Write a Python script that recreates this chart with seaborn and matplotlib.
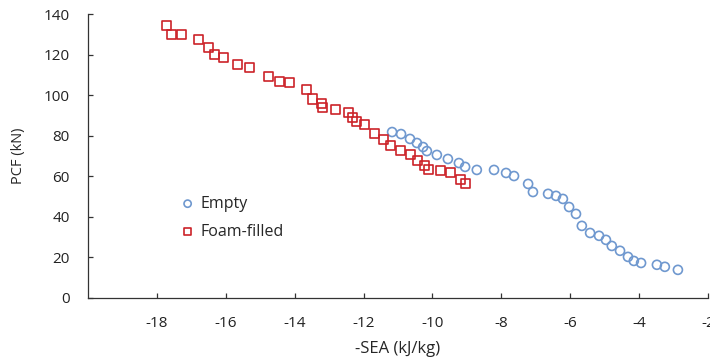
import seaborn as sns
import pandas as pd
import matplotlib
matplotlib.use("Agg")
import matplotlib.pyplot as plt

# Empty tubes
empty_sea = [-11.17, -10.91, -10.65, -10.45, -10.27, -10.16, -9.87, -9.55, -9.23, -9.05,
             -8.71, -8.21, -7.86, -7.63, -7.22, -7.08, -6.64, -6.41, -6.21, -6.03,
             -5.83, -5.66, -5.42, -5.16, -4.96, -4.79, -4.55, -4.32, -4.15, -3.94,
             -3.48, -3.25, -2.87]
empty_pcf = [81.8, 80.8, 78.4, 76.4, 74.4, 72.4, 70.5, 68.5, 66.5, 64.6,
             63.1, 63.1, 61.6, 60.1, 56.2, 52.2, 51.3, 50.3, 48.8, 44.8,
             41.4, 35.5, 32.0, 30.6, 28.6, 25.6, 23.2, 20.2, 18.2, 17.2,
             16.3, 15.3, 13.8]

# Foam-filled tubes
foam_sea = [-17.71, -17.59, -17.30, -16.78, -16.49, -16.34, -16.08, -15.67, -15.30, -14.77,
            -14.45, -14.16, -13.67, -13.47, -13.23, -13.18, -12.80, -12.45, -12.31, -12.19,
            -11.96, -11.67, -11.43, -11.23, -10.94, -10.65, -10.42, -10.24, -10.10, -9.75,
            -9.46, -9.17, -9.05]
foam_pcf = [134.5, 130.1, 130.1, 127.6, 123.7, 120.3, 118.8, 115.3, 113.8, 109.4,
            106.9, 106.0, 103.0, 98.1, 96.1, 94.1, 93.1, 91.2, 89.2, 87.2,
            85.3, 81.3, 77.9, 75.4, 72.9, 70.5, 68.0, 65.5, 63.1, 62.6,
            61.6, 58.6, 56.2]

x_ticks = [-18, -16, -14, -12, -10, -8, -6, -4, -2]
y_ticks = [0, 20, 40, 60, 80, 100, 120, 140]

sns.set_style("ticks")
plt.rcParams['font.family'] = ['Open Sans', 'DejaVu Sans']
plt.rcParams['axes.unicode_minus'] = False

fig = plt.figure(figsize=(7.1, 3.61), dpi=100)
ax = fig.add_axes([0.124, 0.175, 0.873, 0.786])

blue = '#6F98CF'
red = '#CC2229'
sns.scatterplot(x=empty_sea, y=empty_pcf, marker='o', s=42, facecolor='none',
                edgecolor=blue, linewidth=1.2, label='Empty', ax=ax)
sns.scatterplot(x=foam_sea, y=foam_pcf, marker='s', s=42, facecolor='none',
                edgecolor=red, linewidth=1.2, label='Foam-filled', ax=ax)

ax.set_xlim(-20, -2)
ax.set_ylim(0, 140)
ax.set_xticks(x_ticks)
ax.set_yticks(y_ticks)
ax.tick_params(direction='in', length=3.5, width=0.9, color='#333333',
               labelsize=11, labelcolor='#222222', bottom=True, left=True)
ax.tick_params(axis='x', pad=13)
ax.tick_params(axis='y', pad=13)
for side in ['top', 'right']:
    ax.spines[side].set_visible(False)
for side in ['left', 'bottom']:
    ax.spines[side].set_color('#333333')
    ax.spines[side].set_linewidth(0.9)

ax.set_xlabel('-SEA (kJ/kg)', fontsize=12, labelpad=7)
ax.set_ylabel('PCF (kN)', fontsize=10.5, labelpad=13)

ax.legend(loc='upper left', bbox_to_anchor=(0.122, 0.41), frameon=False,
          fontsize=11.5, handletextpad=0.2, labelspacing=0.75, handlelength=1.2,
          markerscale=0.8)

fig.savefig('out.png', dpi=100)
